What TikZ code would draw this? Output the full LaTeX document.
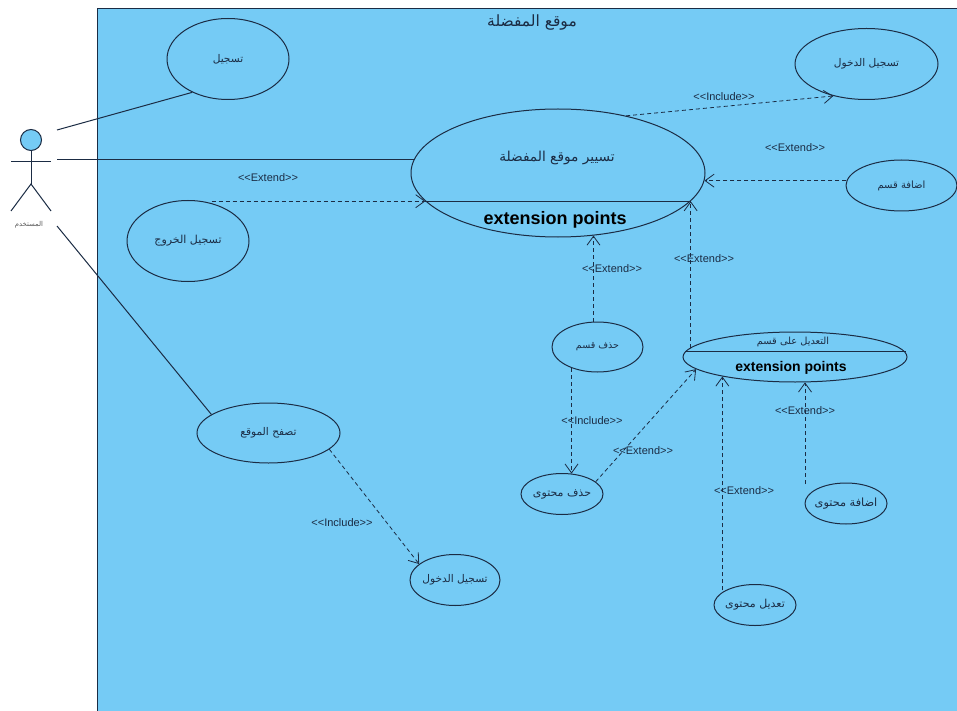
\documentclass[tikz,border=0pt]{standalone}
\usepackage{fontspec}
\setmainfont{Liberation Sans}
\newfontfamily\arabicfont[Script=Arabic]{DejaVu Sans}
\TeXXeTstate=1
\usetikzlibrary{arrows.meta,shapes.geometric}
\definecolor{sysblue}{HTML}{75CBF5}
\definecolor{inkline}{HTML}{1B2C44}
\newcommand{\artxt}[1]{\makebox[0pt]{\raisebox{-2pt}{\arabicfont\beginR #1\endR}}}
\newcommand{\extlbl}{{<}{<}Extend{>}{>}}
\newcommand{\inclbl}{{<}{<}Include{>}{>}}

\begin{document}
\begin{tikzpicture}[
  x=1pt, y=-1pt,
  usecase/.style={draw=inkline, ellipse, line width=1pt, inner sep=0pt,
                  text=inkline, font=\fontsize{10.6}{12}\selectfont},
  small/.style={font=\fontsize{#1}{12}\selectfont},
  lbl/.style={text=inkline, inner sep=0pt, font=\fontsize{11}{13}\selectfont},
  assoc/.style={draw=inkline, line width=1pt},
  dep/.style={draw=inkline, line width=0.8pt, dash pattern=on 4pt off 3pt,
              -{Straight Barb[length=9pt,width=13pt,line width=0.8pt]}}
]
\useasboundingbox (0,0) rectangle (957,711);
\fill[white] (0,0) rectangle (957,711);
\draw[draw=inkline, fill=sysblue, line width=1pt] (97,711) -- (97,9) -- (960,9) -- (960,711);
\node[text=inkline, inner sep=0pt, font=\fontsize{15.5}{18}\selectfont] (systitle) at (532,23) {\artxt{موقع المفضلة}};

\node[draw=inkline, fill=sysblue, circle, line width=1pt, minimum size=21pt, inner sep=0pt] (head) at (31,140) {};
\coordinate (hip) at (31,184);
\coordinate (armL) at (11,162);
\coordinate (armR) at (51,162);
\coordinate (legL) at (11,211);
\coordinate (legR) at (51,211);
\draw[assoc] (head) -- (hip);
\draw[assoc] (armL) -- (armR);
\draw[assoc] (legL) -- (hip) -- (legR);
\node[text=black!65, inner sep=0pt, font=\fontsize{6.8}{8}\selectfont] (actorname) at (29,225) {\artxt{المستخدم}};
\coordinate (actorA) at (57,130);
\coordinate (actorB) at (57,160);
\coordinate (actorC) at (57,226);

\node[usecase, minimum width=122pt, minimum height=81pt] (signup) at (228,59) {\artxt{تسجيل}};
\node[usecase, minimum width=122pt, minimum height=81pt, small=11] (logout) at (188,241) {\artxt{تسجيل الخروج}};
\node[usecase, minimum width=143pt, minimum height=71pt] (logintop) at (866.5,64) {\artxt{تسجيل الدخول}};
\node[usecase, minimum width=294pt, minimum height=128pt] (manage) at (558,173) {};
\node[usecase, minimum width=111pt, minimum height=51pt, small=10] (addsec) at (901.5,185.5) {\artxt{اضافة قسم}};
\node[usecase, minimum width=91pt, minimum height=50pt, small=9.5] (delsec) at (597.5,347) {\artxt{حذف قسم}};
\node[usecase, minimum width=224pt, minimum height=50pt] (editsec) at (795,357) {};
\node[usecase, minimum width=82pt, minimum height=41pt, small=11] (delcont) at (562,494) {\artxt{حذف محتوى}};
\node[usecase, minimum width=82pt, minimum height=41pt, small=11.3] (addcont) at (846,503.5) {\artxt{اضافة محتوى}};
\node[usecase, minimum width=82pt, minimum height=41pt, small=11] (editcont) at (755,605) {\artxt{تعديل محتوى}};
\node[usecase, minimum width=143pt, minimum height=60pt] (browse) at (268.5,433) {\artxt{تصفح الموقع}};
\node[usecase, minimum width=90pt, minimum height=51pt] (loginlow) at (455,580) {\artxt{تسجيل الدخول}};

\node[text=inkline, inner sep=0pt, font=\fontsize{13.7}{16}\selectfont] (managetitle) at (557,158) {\artxt{تسيير موقع المفضلة}};
\node[text=black, inner sep=0pt, font=\fontsize{18}{20}\bfseries] (managepts) at (555,220) {extension points};
\draw[assoc] (manage.192.5) -- (manage.-12.5 |- manage.192.5);
\node[text=inkline, inner sep=0pt, font=\fontsize{9.8}{11}\selectfont] (edittitle) at (793,342) {\artxt{التعديل على قسم}};
\node[text=black, inner sep=0pt, font=\fontsize{14}{16}\bfseries] (editpts) at (791,368) {extension points};
\draw[assoc] (editsec.177.9) -- (editsec.2.1 |- editsec.177.9);

\draw[assoc] (actorA) -- (signup.223);
\draw[assoc] (actorB) -- (manage.174.8 |- actorB);
\draw[assoc] (actorC) -- (browse.162.7);

\draw[dep] (logout.58.4 |- manage.192.5) -- (manage.192.5);
\draw[dep] (manage.40) -- (logintop.224.6);
\draw[dep] (addsec.175.4 |- manage.-3.1) -- (manage.-3.1);
\draw[dep] (delsec.99) -- (delsec.99 |- manage.-60.6);
\draw[dep] (manage.-12.5 |- editsec.175.6) -- (manage.-12.5);
\draw[dep] (delsec.219.5) -- (delsec.219.5 |- delcont.64.5);
\draw[dep] (delcont.20.9) -- (editsec.187.5);
\draw[dep] (editsec.195.7 |- editcont.154) -- (editsec.195.7);
\coordinate (addfree) at (805,484);
\draw[dep] (addfree) -- (addfree |- editsec.-68.2);
\draw[dep] (browse.-15.5) -- (loginlow.156);

\node[lbl] (extA) at (268,178) {\extlbl};
\node[lbl] (incA) at (724,97) {\inclbl};
\node[lbl] (extB) at (795,148) {\extlbl};
\node[lbl] (extC) at (612,269) {\extlbl};
\node[lbl] (extD) at (704,259) {\extlbl};
\node[lbl] (incB) at (592,421) {\inclbl};
\node[lbl] (extE) at (643,451) {\extlbl};
\node[lbl] (extF) at (744,491) {\extlbl};
\node[lbl] (extG) at (805,411) {\extlbl};
\node[lbl] (incC) at (342,523) {\inclbl};
\end{tikzpicture}
\end{document}
